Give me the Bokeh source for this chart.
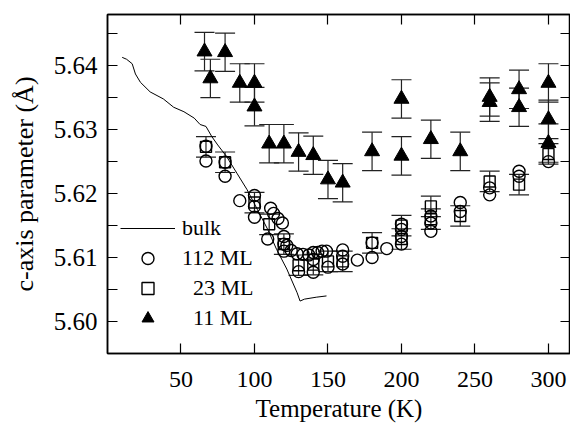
from bokeh.plotting import figure
from bokeh.models import (ColumnDataSource, FixedTicker, LinearAxis, Whisker, TeeHead,
                          Legend, LegendItem, PrintfTickFormatter)
from bokeh.embed import file_html
from bokeh.resources import INLINE

# ---- data ----
bulk_T = [10, 13, 16.8, 19, 22.4, 29, 38, 45, 52, 59, 63, 67, 71, 75, 81, 88, 95, 102, 109, 115, 122, 129, 131, 134, 142, 149]
bulk_c = [5.6413, 5.6410, 5.6403, 5.6387, 5.6374, 5.6359, 5.6348, 5.6335, 5.6328, 5.6318, 5.6308, 5.6305, 5.6289, 5.6276,
          5.6258, 5.6232, 5.6206, 5.6175, 5.6144, 5.6113, 5.6082, 5.6045, 5.6032, 5.6035, 5.6038, 5.6040]

ml112_T = [67, 67, 80, 80, 90, 100, 100, 100, 109, 111, 113, 116, 119, 120, 120, 120, 122, 125, 129, 130, 133, 137,
           140, 140, 140, 143, 146, 149, 150, 160, 160, 160, 170, 180, 180, 190, 200, 200, 200, 200, 220, 220, 220,
           240, 240, 260, 260, 280, 280, 300]
ml112_c = [5.6274, 5.6251, 5.6249, 5.6227, 5.6189, 5.6197, 5.6180, 5.6163, 5.6129, 5.6177, 5.6169, 5.6161, 5.6154,
           5.6133, 5.6121, 5.6110, 5.6119, 5.6111, 5.6106, 5.6078, 5.6105, 5.6104, 5.6108, 5.6097, 5.6077, 5.6108,
           5.6110, 5.6110, 5.6085, 5.6112, 5.6102, 5.6090, 5.6096, 5.6123, 5.6100, 5.6114, 5.6152, 5.6144, 5.6133,
           5.6121, 5.6165, 5.6154, 5.6141, 5.6186, 5.6172, 5.6209, 5.6198, 5.6235, 5.6227, 5.6250]

ml23_T = [67, 80, 100, 110, 120, 130, 140, 150, 160, 180, 200, 200, 220, 220, 240, 260, 280, 300]
ml23_c = [5.6273, 5.6249, 5.6186, 5.6152, 5.6121, 5.6088, 5.6089, 5.6094, 5.6094, 5.6123, 5.6150, 5.6129, 5.6180,
          5.6160, 5.6165, 5.6219, 5.6214, 5.6262]
ml23_err = [0.0016] * len(ml23_T)

ml11_T = [66, 70, 80, 90, 100, 100, 110, 120, 130, 140, 150, 160, 180, 200, 200, 220, 240, 260, 260, 280, 280, 300, 300, 300]
ml11_c = [5.6422, 5.6380, 5.6421, 5.6373, 5.6373, 5.6336, 5.6278, 5.6278, 5.6265, 5.6260, 5.6222, 5.6217, 5.6266,
          5.6348, 5.6259, 5.6285, 5.6266, 5.6351, 5.6343, 5.6363, 5.6335, 5.6373, 5.6316, 5.6279]
ml11_err = [0.003] * len(ml11_T)

x_ticks = [50, 100, 150, 200, 250, 300]
y_ticks = [5.60, 5.61, 5.62, 5.63, 5.64]
y_minor = [5.605, 5.615, 5.625, 5.635, 5.645]

FONT = "Liberation Serif"

p = figure(width=570, height=424, x_range=(0, 315), y_range=(5.595, 5.648),
           output_backend="svg", toolbar_location=None,
           x_axis_location=None, y_axis_location=None,
           min_border_left=107, min_border_right=0, min_border_top=14, min_border_bottom=69)
p.grid.visible = False
p.outline_line_color = "black"
p.outline_line_width = 1.5
p.background_fill_color = "white"


def style_axis(ax, labels=True):
    ax.major_tick_in = 10
    ax.major_tick_out = 0
    ax.minor_tick_in = 10
    ax.minor_tick_out = 0
    ax.axis_line_width = 1.5
    ax.major_tick_line_width = 1.2
    ax.minor_tick_line_width = 1.2
    ax.axis_line_color = "black"
    ax.major_tick_line_color = "black"
    ax.minor_tick_line_color = "black"
    if labels:
        ax.major_label_text_font = FONT
        ax.major_label_text_font_size = "24px"
        ax.major_label_text_color = "black"
        ax.axis_label_text_color = "black"
        ax.axis_label_text_font = FONT
        ax.axis_label_text_font_style = "normal"
    else:
        ax.major_label_text_font_size = "0px"
        ax.major_label_text_color = None
        ax.major_label_standoff = 0


xb = LinearAxis(ticker=FixedTicker(ticks=x_ticks))
style_axis(xb)
xb.major_label_standoff = 18
xb.axis_label = "Temperature (K)"
xb.axis_label_text_font_size = "25px"
xb.axis_label_standoff = 5
p.add_layout(xb, "below")

xt = LinearAxis(ticker=FixedTicker(ticks=x_ticks))
style_axis(xt, labels=False)
p.add_layout(xt, "above")

yl = LinearAxis(ticker=FixedTicker(ticks=y_ticks, minor_ticks=y_minor),
                formatter=PrintfTickFormatter(format="%.2f"))
style_axis(yl)
yl.major_label_text_font_size = "25px"
yl.major_label_standoff = 10
yl.axis_label = "c-axis parameter (Å)"
yl.axis_label_text_font_size = "26px"
yl.axis_label_standoff = 12
p.add_layout(yl, "left")

yr = LinearAxis(ticker=FixedTicker(ticks=y_ticks, minor_ticks=y_minor))
style_axis(yr, labels=False)
p.add_layout(yr, "right")

# bulk line
r_bulk = p.line(bulk_T, bulk_c, line_color="black", line_width=1)

# error bars
s23 = ColumnDataSource(dict(T=ml23_T, c=ml23_c,
                            up=[c + e for c, e in zip(ml23_c, ml23_err)],
                            lo=[c - e for c, e in zip(ml23_c, ml23_err)]))
s11 = ColumnDataSource(dict(T=ml11_T, c=ml11_c,
                            up=[c + e for c, e in zip(ml11_c, ml11_err)],
                            lo=[c - e for c, e in zip(ml11_c, ml11_err)]))
for src in (s23, s11):
    p.add_layout(Whisker(source=src, base="T", upper="up", lower="lo", dimension="height",
                         line_color="#222222", line_width=1.2,
                         upper_head=TeeHead(size=20, line_color="#222222", line_width=1.2),
                         lower_head=TeeHead(size=20, line_color="#222222", line_width=1.2)))

r112 = p.scatter(ml112_T, ml112_c, marker="circle", size=12, fill_color=None,
                 line_color="black", line_width=1.4)
r23 = p.scatter("T", "c", source=s23, marker="square", size=11, fill_color=None,
                line_color="black", line_width=1.4)
r11 = p.scatter("T", "c", source=s11, marker="triangle", size=15, fill_color="black",
                line_color="black", line_width=1)

legend = Legend(items=[LegendItem(label="bulk", renderers=[r_bulk]),
                       LegendItem(label="112 ML", renderers=[r112]),
                       LegendItem(label="\u200723 ML", renderers=[r23]),
                       LegendItem(label="\u200711 ML", renderers=[r11])],
                location=(13, 20), padding=0, margin=0, spacing=0,
                glyph_width=55, glyph_height=30, label_height=30, label_standoff=7,
                label_text_font=FONT, label_text_font_size="22px", label_text_color="black",
                border_line_color=None, background_fill_alpha=0)
p.add_layout(legend)

open("out.html", "w").write(file_html(p, INLINE))
